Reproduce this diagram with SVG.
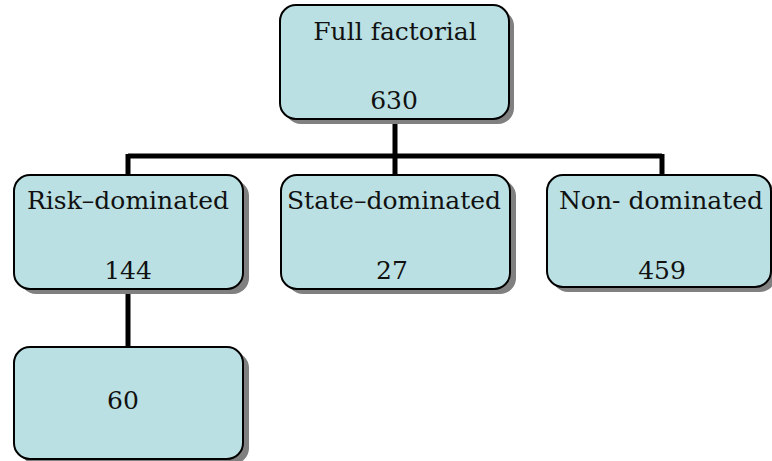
<svg xmlns="http://www.w3.org/2000/svg" width="772" height="461" viewBox="0 0 772 461">
<style>
.box{fill:#BAE0E3;stroke:#000;stroke-width:2}
.sh{fill:#808080}
.t{font-family:"DejaVu Serif","Liberation Serif",serif;font-size:25px;fill:#111;text-anchor:middle}
.c{stroke:#000;stroke-width:5;fill:none}
</style>
<rect width="772" height="461" fill="#fff"/>
<g id="connectors">
<path class="c" d="M395,119 V156 M128,156 H662 M128,154 V175 M395,154 V175 M662,154 V175 M128,289 V347"/>
</g>
<g id="n-full">
<rect class="sh" x="285" y="10" width="229" height="114" rx="16"/>
<rect class="box" x="280" y="5" width="229" height="114" rx="16"/>
<text class="t" x="395" y="40">Full factorial</text>
<text class="t" x="394" y="109">630</text>
</g>
<g id="n-risk">
<rect class="sh" x="20" y="180" width="229" height="114" rx="16"/>
<rect class="box" x="14" y="175" width="229" height="114" rx="16"/>
<text class="t" x="128" y="209">Risk–dominated</text>
<text class="t" x="128" y="279">144</text>
</g>
<g id="n-state">
<rect class="sh" x="287" y="180" width="229" height="114" rx="16"/>
<rect class="box" x="281" y="175" width="229" height="114" rx="16"/>
<text class="t" x="394" y="209">State–dominated</text>
<text class="t" x="392" y="279">27</text>
</g>
<g id="n-non">
<rect class="sh" x="552" y="180" width="224" height="112" rx="16"/>
<rect class="box" x="547" y="175" width="224" height="112" rx="16"/>
<text class="t" x="661" y="209">Non- dominated</text>
<text class="t" x="662" y="279">459</text>
</g>
<g id="n-60">
<rect class="sh" x="20" y="352" width="229" height="112" rx="16"/>
<rect class="box" x="14" y="347" width="229" height="112" rx="16"/>
<text class="t" x="123" y="409">60</text>
</g>
</svg>
